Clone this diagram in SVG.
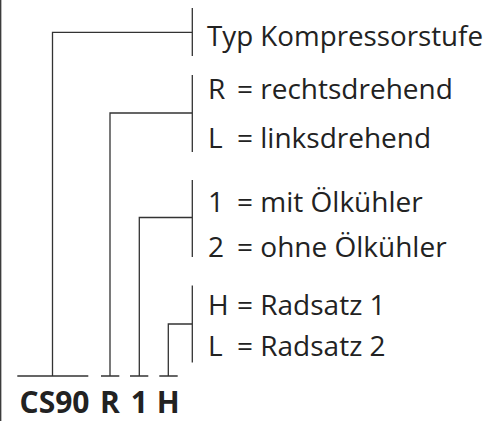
<svg xmlns="http://www.w3.org/2000/svg" width="487" height="421" viewBox="0 0 487 421">
  <style>
    .ln { stroke: #333; stroke-width: 1.3; fill: none; }
    .lbl { font-family: "Open Sans", "Noto Sans", sans-serif; font-size: 28px; fill: #222; }
    .code { font-family: "Open Sans", "Noto Sans", sans-serif; font-size: 30px; font-weight: bold; fill: #222; text-anchor: middle; }
  </style>
  <rect width="487" height="421" fill="#fff"/>
  <line x1="0.7" y1="0" x2="0.7" y2="421" class="ln" stroke-width="1.6"/>

  <g id="connectors">
    <!-- compressor stage -->
    <path class="ln" d="M192.3 8 V56 M192.3 32.3 H52.5 V376"/>
    <!-- rotation direction -->
    <path class="ln" d="M192.3 75 V152 M192.3 113 H110 V376"/>
    <!-- oil cooler -->
    <path class="ln" d="M192.3 180 V257 M192.3 217.5 H139.3 V376"/>
    <!-- wheel set -->
    <path class="ln" d="M192.3 285.5 V362.5 M192.3 324 H168.3 V376"/>
    <!-- base ticks -->
    <path class="ln" d="M17.3 376 H88.3 M101 376 H119.3 M130 376 H148.3 M159.3 376 H177.7"/>
  </g>

  <g id="code">
    <text class="code" x="54.5" y="413">CS90</text>
    <text class="code" x="110" y="413">R</text>
    <text class="code" x="139.3" y="413">1</text>
    <text class="code" x="168.3" y="413">H</text>
  </g>

  <g id="typ">
    <text class="lbl" x="207" y="46" textLength="276" lengthAdjust="spacingAndGlyphs">Typ Kompressorstufe</text>
  </g>
  <g id="rotation">
    <text class="lbl" x="208" y="99">R</text>
    <text class="lbl" x="237" y="99">= rechtsdrehend</text>
    <text class="lbl" x="208" y="148">L</text>
    <text class="lbl" x="237" y="148">= linksdrehend</text>
  </g>
  <g id="cooler">
    <text class="lbl" x="208" y="211.5">1</text>
    <text class="lbl" x="237" y="211.5">= mit Ölkühler</text>
    <text class="lbl" x="208" y="256.7">2</text>
    <text class="lbl" x="237" y="256.7">= ohne Ölkühler</text>
  </g>
  <g id="wheelset">
    <text class="lbl" x="208" y="315.3">H</text>
    <text class="lbl" x="237" y="315.3">= Radsatz 1</text>
    <text class="lbl" x="208" y="356">L</text>
    <text class="lbl" x="237" y="356">= Radsatz 2</text>
  </g>
</svg>
